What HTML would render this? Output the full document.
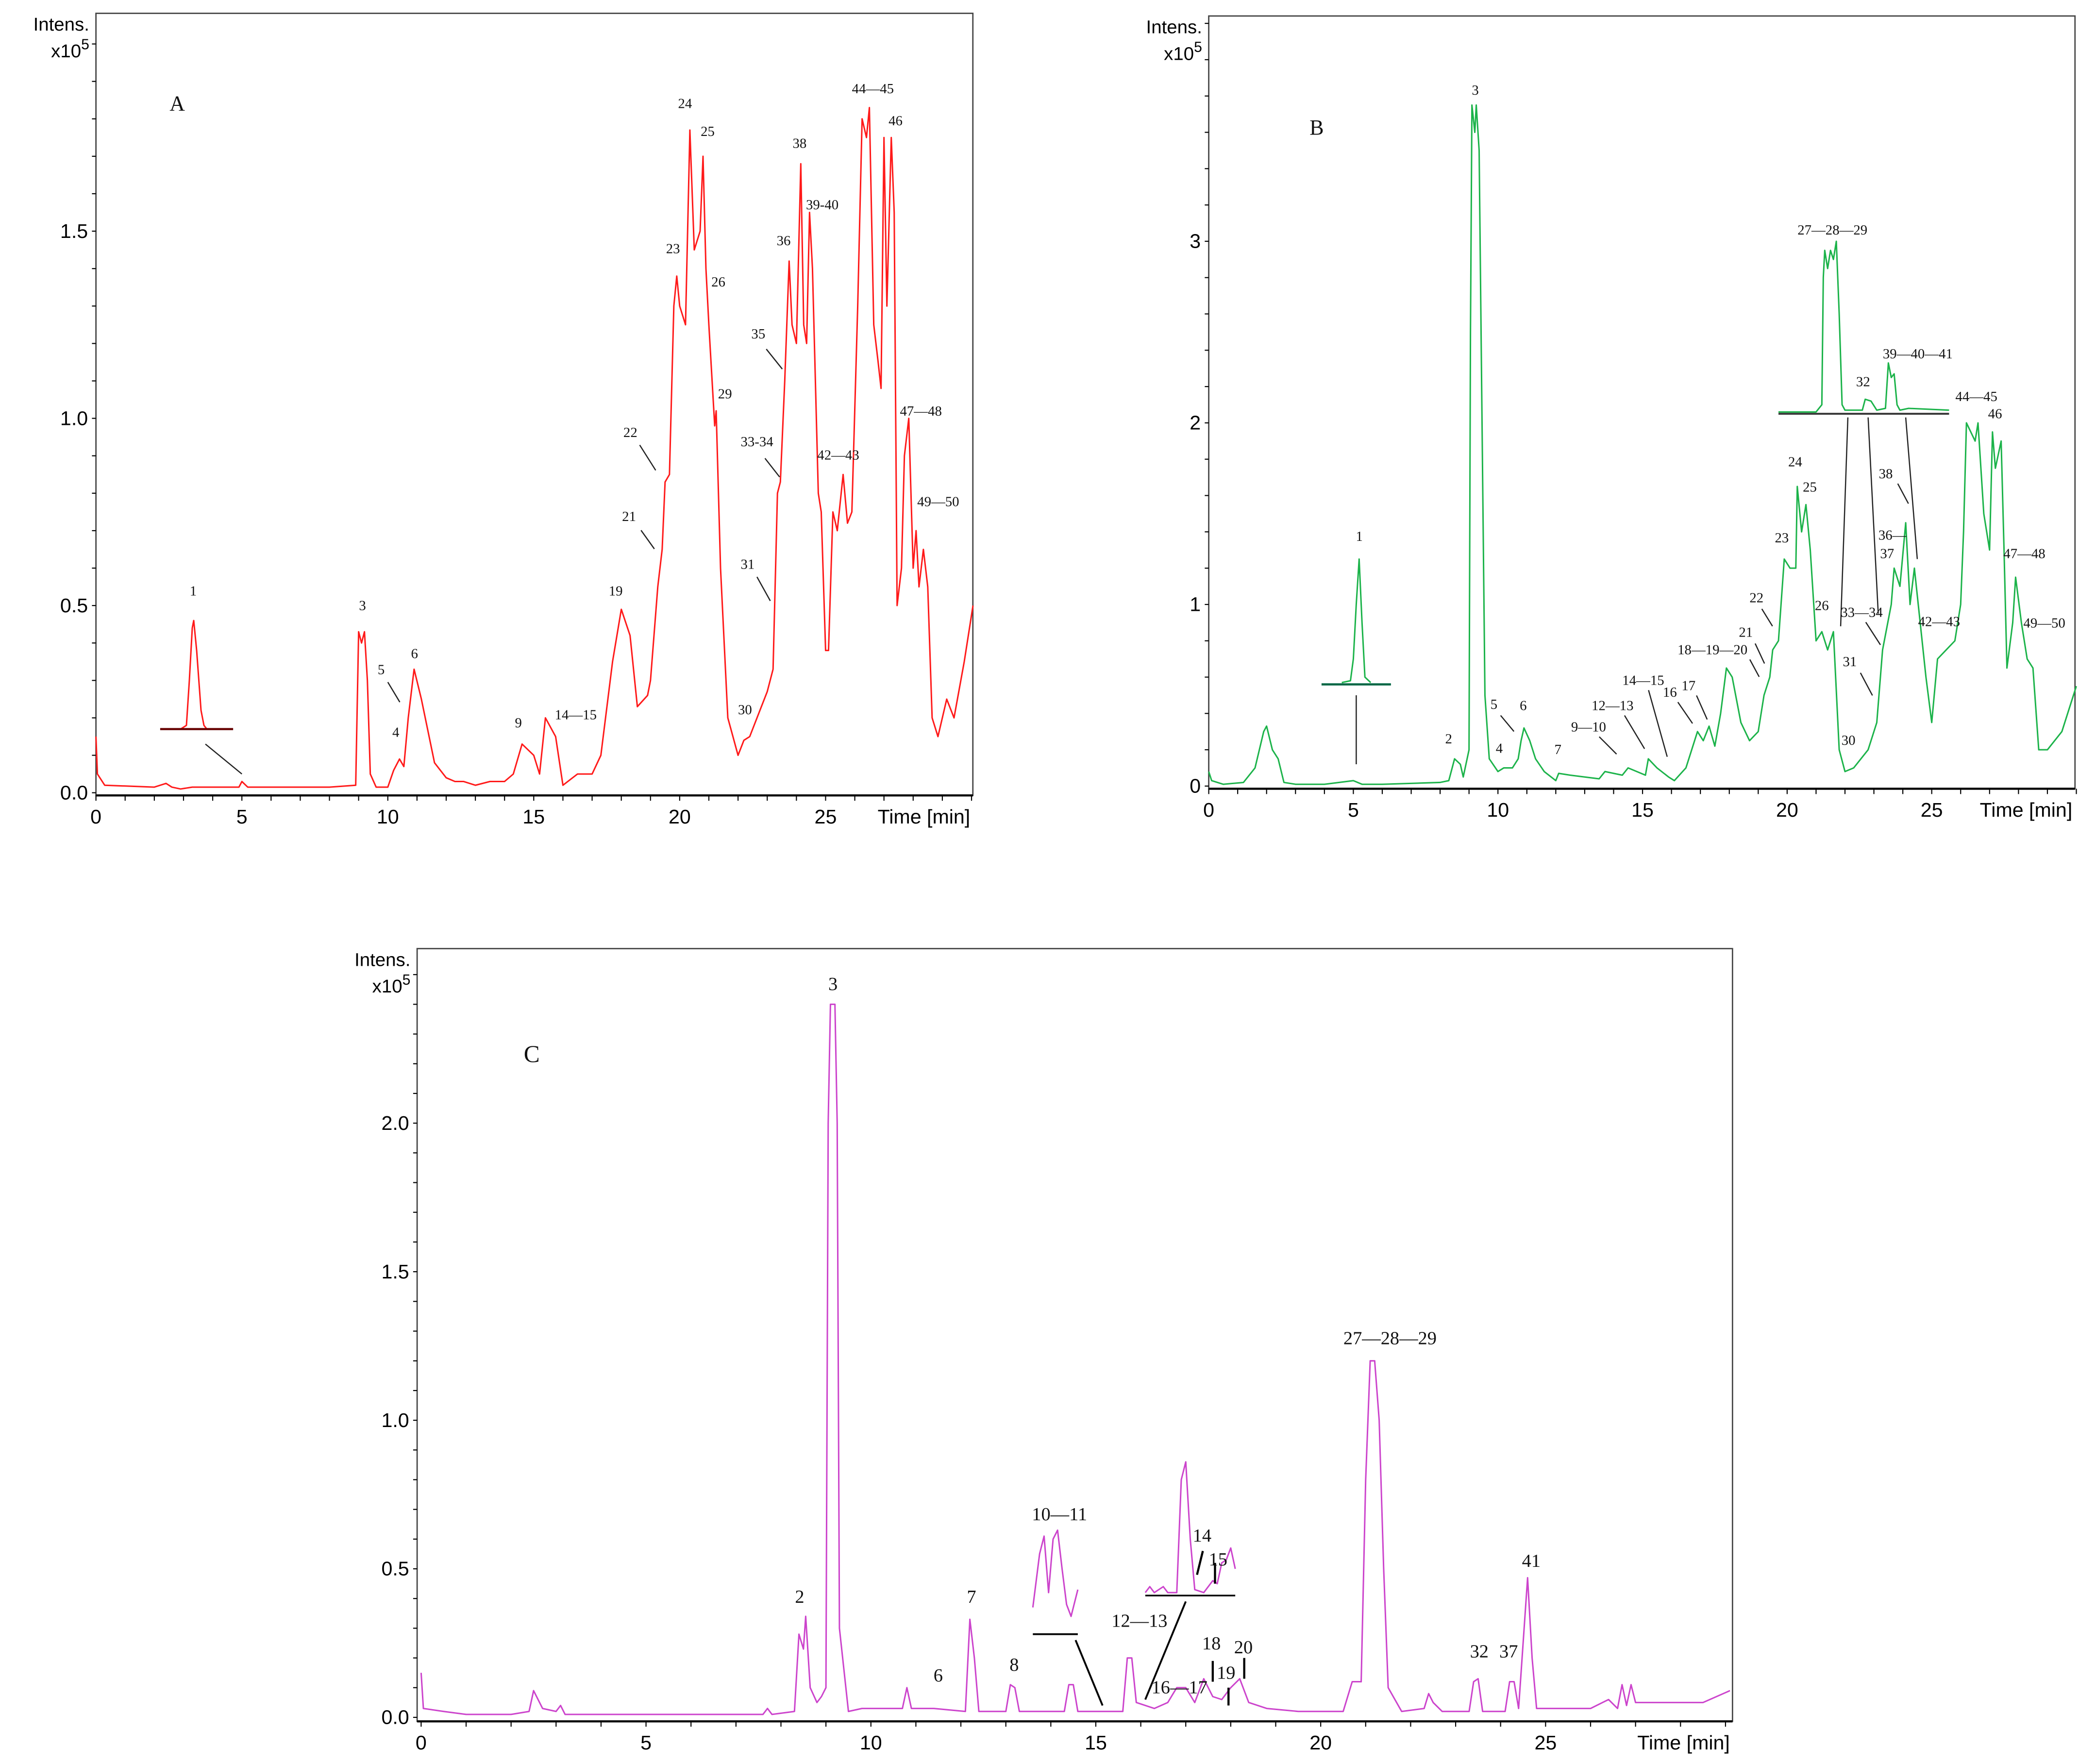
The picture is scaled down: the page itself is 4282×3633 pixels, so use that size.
<!DOCTYPE html>
<html><head><meta charset="utf-8"><style>
html,body{margin:0;padding:0;background:#fff;}
svg{display:block;}
.tk{font-family:"Liberation Sans",sans-serif;font-size:15px;fill:#000;}
.lb{font-family:"Liberation Serif",serif;font-size:10.5px;fill:#111;}
.lbc{font-family:"Liberation Serif",serif;font-size:14px;fill:#111;}
</style></head><body>
<svg id="fig" width="4282" height="3633" viewBox="0 0 1560 1324" preserveAspectRatio="none" xmlns="http://www.w3.org/2000/svg">
<rect width="1560" height="1324" fill="#fff"/>
</svg>
<script>
// ---- Panel A data (time min, intensity x1e5) ----
const timesA=[0,0.05,0.3,2,2.4,2.6,2.9,3.3,4,4.9,5.0,5.2,6,8,8.9,9.0,9.1,9.2,9.3,9.4,9.6,10.0,10.2,10.4,10.55,10.7,10.9,11.15,11.6,12,12.3,12.6,13,13.5,14,14.3,14.6,15.0,15.2,15.4,15.75,16.0,16.5,17.0,17.3,17.7,18.0,18.3,18.55,18.9,19.0,19.25,19.4,19.5,19.65,19.8,19.9,20.0,20.2,20.35,20.5,20.7,20.8,20.9,21.0,21.2,21.25,21.4,21.65,22.0,22.2,22.4,23.0,23.2,23.35,23.45,23.6,23.75,23.85,24.0,24.15,24.25,24.35,24.45,24.55,24.75,24.85,25.0,25.1,25.25,25.4,25.6,25.75,25.9,26.1,26.25,26.4,26.5,26.65,26.8,26.9,27.0,27.1,27.25,27.35,27.45,27.6,27.7,27.85,28.0,28.1,28.2,28.35,28.5,28.65,28.85,29.15,29.4,29.75,30.05];
const valuesA=[0.15,0.05,0.02,0.015,0.025,0.015,0.01,0.015,0.015,0.015,0.03,0.015,0.015,0.015,0.02,0.43,0.40,0.43,0.30,0.05,0.015,0.015,0.06,0.09,0.07,0.2,0.33,0.25,0.08,0.04,0.03,0.03,0.02,0.03,0.03,0.05,0.13,0.1,0.05,0.2,0.15,0.02,0.05,0.05,0.1,0.35,0.49,0.42,0.23,0.26,0.3,0.55,0.65,0.83,0.85,1.3,1.38,1.3,1.25,1.77,1.45,1.5,1.7,1.4,1.25,0.98,1.02,0.6,0.2,0.1,0.14,0.15,0.27,0.33,0.8,0.83,1.1,1.42,1.25,1.2,1.68,1.25,1.2,1.55,1.4,0.8,0.75,0.38,0.38,0.75,0.7,0.85,0.72,0.75,1.3,1.8,1.75,1.83,1.25,1.15,1.08,1.75,1.3,1.75,1.55,0.5,0.6,0.9,1.0,0.6,0.7,0.55,0.65,0.55,0.2,0.15,0.25,0.2,0.35,0.5];
// ---- Panel B data ----
const timesB=[0,0.1,0.5,1.2,1.6,1.9,2.0,2.2,2.4,2.6,3,4,4.5,5,5.3,6,8,8.3,8.5,8.7,8.8,9.0,9.05,9.1,9.2,9.25,9.35,9.45,9.55,9.7,10.0,10.2,10.5,10.7,10.8,10.9,11.1,11.3,11.6,12.0,12.1,12.5,13,13.5,13.7,14,14.3,14.5,14.8,15.1,15.2,15.5,15.9,16.1,16.5,16.7,16.9,17.1,17.3,17.5,17.7,17.9,18.1,18.4,18.7,19.0,19.2,19.4,19.5,19.7,19.9,20.1,20.3,20.35,20.5,20.65,20.8,21.0,21.2,21.4,21.6,21.8,22.0,22.3,22.8,23.1,23.3,23.6,23.7,23.9,24.1,24.25,24.4,24.6,24.8,25.0,25.2,25.5,25.8,26.0,26.1,26.2,26.5,26.6,26.8,27.0,27.1,27.2,27.4,27.5,27.6,27.8,27.9,28.1,28.3,28.5,28.7,29,29.5,30];
const valuesB=[0.08,0.03,0.01,0.02,0.1,0.3,0.33,0.2,0.15,0.02,0.01,0.01,0.02,0.03,0.01,0.01,0.02,0.03,0.15,0.12,0.05,0.2,2.5,3.75,3.6,3.75,3.5,2.0,0.5,0.15,0.08,0.1,0.1,0.15,0.25,0.32,0.25,0.15,0.08,0.03,0.07,0.06,0.05,0.04,0.08,0.07,0.06,0.1,0.08,0.06,0.15,0.1,0.05,0.03,0.1,0.2,0.3,0.25,0.33,0.22,0.4,0.65,0.6,0.35,0.25,0.3,0.5,0.6,0.75,0.8,1.25,1.2,1.2,1.65,1.4,1.55,1.3,0.8,0.85,0.75,0.85,0.2,0.08,0.1,0.2,0.35,0.75,1.0,1.2,1.1,1.45,1.0,1.2,0.9,0.6,0.35,0.7,0.75,0.8,1.0,1.4,2.0,1.9,2.0,1.5,1.3,1.95,1.75,1.9,1.3,0.65,0.9,1.15,0.9,0.7,0.65,0.2,0.2,0.3,0.55];
// ---- Panel C data ----
const timesC=[0,0.05,0.5,1,2,2.4,2.5,2.7,3,3.1,3.2,7.6,7.7,7.8,8.3,8.4,8.5,8.55,8.65,8.8,8.9,9.0,9.05,9.1,9.2,9.25,9.3,9.5,9.8,10.2,10.7,10.8,10.9,11.4,12.1,12.2,12.3,12.4,13.0,13.1,13.2,13.3,14.3,14.4,14.5,14.6,15.6,15.7,15.8,15.9,16.3,16.6,16.8,17.0,17.2,17.4,17.6,17.8,18.0,18.2,18.4,18.8,19.5,20.5,20.7,20.9,21.0,21.1,21.2,21.3,21.4,21.5,21.8,22.3,22.4,22.5,22.7,23.3,23.4,23.5,23.6,24.1,24.2,24.3,24.4,24.5,24.6,24.7,24.8,26.0,26.4,26.6,26.7,26.8,26.9,27.0,28.0,28.5,29.1];
const valuesC=[0.15,0.03,0.02,0.01,0.01,0.02,0.09,0.03,0.02,0.04,0.01,0.01,0.03,0.01,0.02,0.28,0.23,0.34,0.1,0.05,0.07,0.1,2.0,2.4,2.4,2.0,0.3,0.02,0.03,0.03,0.03,0.1,0.03,0.03,0.02,0.33,0.2,0.02,0.02,0.11,0.1,0.02,0.02,0.11,0.11,0.02,0.02,0.2,0.2,0.05,0.03,0.05,0.1,0.1,0.05,0.13,0.07,0.06,0.1,0.13,0.05,0.03,0.02,0.02,0.12,0.12,0.8,1.2,1.2,1.0,0.5,0.1,0.02,0.03,0.08,0.05,0.02,0.02,0.12,0.13,0.02,0.02,0.12,0.12,0.03,0.25,0.47,0.2,0.03,0.03,0.06,0.03,0.11,0.04,0.11,0.05,0.05,0.05,0.09];
// insets
const insetA1T=[2.9,3.1,3.2,3.3,3.35,3.45,3.6,3.7,3.8];
const insetA1V=[0.17,0.18,0.3,0.44,0.46,0.38,0.22,0.18,0.17];
const insetB1T=[4.6,4.9,5.0,5.1,5.2,5.3,5.4,5.6];
const insetB1V=[0.57,0.58,0.7,1.0,1.25,0.9,0.6,0.57];
const insetB2T=[19.7,21.0,21.2,21.25,21.3,21.4,21.5,21.6,21.7,21.8,21.9,22.0,22.6,22.7,22.9,23.1,23.4,23.5,23.6,23.7,23.8,23.9,24.2,25.6];
const insetB2V=[2.06,2.06,2.1,2.8,2.95,2.85,2.95,2.9,3.0,2.6,2.1,2.07,2.07,2.13,2.12,2.07,2.08,2.33,2.25,2.27,2.1,2.07,2.08,2.07];
const insetC1T=[13.6,13.75,13.85,13.95,14.05,14.15,14.25,14.35,14.45,14.5,14.6];
const insetC1V=[0.37,0.55,0.61,0.42,0.6,0.63,0.5,0.38,0.34,0.37,0.43];
const insetC2T=[16.1,16.2,16.3,16.4,16.5,16.6,16.8,16.9,17.0,17.1,17.2,17.4,17.6,17.7,17.8,17.9,18.0,18.1];
const insetC2V=[0.42,0.44,0.42,0.43,0.44,0.42,0.42,0.8,0.86,0.6,0.43,0.42,0.46,0.45,0.52,0.53,0.57,0.5];
const ticksAY=["0.0","0.5","1.0","1.5"];
const ticksBY=["0","1","2","3"];
const ticksCY=["0.0","0.5","1.0","1.5","2.0"];
const ticksX=["0","5","10","15","20","25"];

const NS="http://www.w3.org/2000/svg";
const svg=document.getElementById('fig');
function mk(tag,attrs,parent){const e=document.createElementNS(NS,tag);for(const k in attrs)e.setAttribute(k,attrs[k]);(parent||svg).appendChild(e);return e;}

const panels={
 A:{left:72,right:730,top:10,bottom:597,x0:72,ppm:21.9,y0:595,ppu:281,tmax:30,vmax:2.0,minorY:0.1,yt:ticksAY,color:"#ff1a1a"},
 B:{left:907,right:1557,top:12,bottom:592,x0:907,ppm:21.7,y0:590,ppu:136.3,tmax:30,vmax:4.2,minorY:0.2,yt:ticksBY,color:"#1cb34a"},
 C:{left:313,right:1300,top:712,bottom:1292,x0:316,ppm:33.75,y0:1289,ppu:223,tmax:29,vmax:2.5,minorY:0.1,yt:ticksCY,color:"#cc44cc"}
};
function X(p,t){return p.x0+t*p.ppm;}
function Y(p,v){return p.y0-v*p.ppu;}

function drawPanel(key){
 const p=panels[key];
 const g=mk('g',{});
 
 
 const fr=mk('rect',{x:p.left,y:p.top,width:p.right-p.left,height:p.bottom-p.top,fill:'none',stroke:'#444','stroke-width':1},g);
 
 
 const xa=mk('line',{x1:p.left,y1:p.bottom,x2:p.right,y2:p.bottom,stroke:'#000','stroke-width':1.6},g);
 
 
 for(let t=0;t<=p.tmax;t++){
  const tk=mk('line',{x1:X(p,t),y1:p.bottom,x2:X(p,t),y2:p.bottom+4,stroke:'#000','stroke-width':0.8},g);
  
  
 }
 ticksX.forEach(s=>{
  const tx=mk('text',{x:X(p,+s),y:p.bottom+21,'text-anchor':'middle',class:'tk'},g);tx.textContent=s;
  
  
 });
 const xt=mk('text',{x:p.right-2,y:p.bottom+21,'text-anchor':'end',class:'tk'},g);xt.textContent='Time [min]';
 
 
 for(let v=0;v<=p.vmax+1e-6;v+=p.minorY){
  const tk=mk('line',{x1:p.left-3,y1:Y(p,v),x2:p.left,y2:Y(p,v),stroke:'#000','stroke-width':0.8},g);
  
  
 }
 p.yt.forEach(s=>{
  const tx=mk('text',{x:p.left-6,y:Y(p,+s)+5,'text-anchor':'end',class:'tk'},g);tx.textContent=s;
  
  
 });
 const it=mk('text',{x:p.left-5,y:p.top+13,'text-anchor':'end',class:'tk',style:'font-size:14px'},g);it.textContent='Intens.';
 
 
 const ex=mk('text',{x:p.left-5,y:p.top+33,'text-anchor':'end',class:'tk',style:'font-size:14px'},g);
 ex.innerHTML='x10<tspan dy="-6" style="font-size:11px">5</tspan>';
 
 
 return g;
}
function trace(key,ts,vs,name,color,w){
 const p=panels[key];
 const pts=ts.map((t,i)=>X(p,t).toFixed(2)+','+Y(p,vs[i]).toFixed(2)).join(' ');
 const pl=mk('polyline',{points:pts,fill:'none',stroke:color||p.color,'stroke-width':w||1.1,'stroke-linejoin':'round'});
 
 
}
function seg(key,t1,v1,t2,v2,name,color,w){
 const p=panels[key];
 const l=mk('line',{x1:X(p,t1),y1:Y(p,v1),x2:X(p,t2),y2:Y(p,v2),stroke:color||'#222','stroke-width':w||0.9});
 
 
}
function label(x,y,s,cls,size){
 const t=mk('text',{x:x,y:y,'text-anchor':'middle',class:cls||'lb'});
 if(size)t.setAttribute('style','font-size:'+size+'px');
 t.textContent=s;
 
 
}

drawPanel('A');drawPanel('B');drawPanel('C');
trace('A',timesA,valuesA,'trace-a');
trace('B',timesB,valuesB,'trace-b');
trace('C',timesC,valuesC,'trace-c');
// insets
trace('A',insetA1T,insetA1V,'inset-a-peak-1');
seg('A',2.2,0.17,4.7,0.17,'inset-a-baseline','#600',1.6);
seg('A',3.75,0.13,5.0,0.05,'inset-a-leader');
trace('B',insetB1T,insetB1V,'inset-b-peak-1');
seg('B',3.9,0.56,6.3,0.56,'inset-b1-baseline','#064',1.6);
seg('B',5.1,0.5,5.1,0.12,'inset-b1-leader');
trace('B',insetB2T,insetB2V,'inset-b-peaks-27-41');
seg('B',19.7,2.05,25.6,2.05,'inset-b2-baseline','#333',1.4);
seg('B',22.1,2.03,21.85,0.88,'inset-b2-leader-1');
seg('B',22.8,2.03,23.15,0.95,'inset-b2-leader-2');
seg('B',24.1,2.03,24.5,1.25,'inset-b2-leader-3');
trace('C',insetC1T,insetC1V,'inset-c-peaks-10-11');
seg('C',13.6,0.28,14.6,0.28,'inset-c1-baseline','#000',1.4);
seg('C',14.55,0.26,15.15,0.04,'inset-c1-leader','#000',1.4);
trace('C',insetC2T,insetC2V,'inset-c-peaks-12-15');
seg('C',16.1,0.41,18.1,0.41,'inset-c2-baseline','#000',1.2);
seg('C',17.0,0.39,16.1,0.06,'inset-c2-leader','#000',1.4);
seg('C',17.25,0.48,17.38,0.56,'marker-14','#000',1.6);
seg('C',17.65,0.45,17.65,0.52,'marker-15','#000',1.6);
seg('C',17.6,0.19,17.6,0.12,'marker-18','#000',1.6);
seg('C',17.95,0.1,17.95,0.04,'marker-19','#000',1.6);
seg('C',18.3,0.2,18.3,0.13,'marker-20','#000',1.6);
// leaders A
[[291,512,300,527],[481,398,491,412],[480,334,492,353],[568,433,578,451],[574,344,585,358],[575,262,587,277]].forEach(a=>{
 const l=mk('line',{x1:a[0],y1:a[1],x2:a[2],y2:a[3],stroke:'#222','stroke-width':0.9});
 
 
});
// leaders B
[[1126,537,1136,549],[1200,553,1213,566],[1219,537,1234,562],[1237,518,1251,568],[1259,527,1270,543],[1273,522,1281,540],[1313,495,1320,508],[1317,483,1324,498],[1322,457,1330,470],[1396,505,1405,522],[1400,467,1411,484],[1424,363,1432,378]].forEach(a=>{
 const l=mk('line',{x1:a[0],y1:a[1],x2:a[2],y2:a[3],stroke:'#222','stroke-width':0.9});
 
 
});
// labels A
label(133,83,'A','lb',16);
[[145,447,'1'],[272,458,'3'],[286,506,'5'],[297,553,'4'],[311,494,'6'],[389,546,'9'],[432,540,'14—15'],[462,447,'19'],[472,391,'21'],[473,328,'22'],[505,190,'23'],[514,81,'24'],[531,102,'25'],[539,215,'26'],[544,299,'29'],[559,536,'30'],[561,427,'31'],[568,335,'33-34'],[569,254,'35'],[588,184,'36'],[600,111,'38'],[617,157,'39-40'],[629,345,'42—43'],[655,70,'44—45'],[672,94,'46'],[691,312,'47—48'],[704,380,'49—50']].forEach(a=>label(a[0],a[1],a[2]));
// labels B
label(988,101,'B','lb',16);
[[1107,71,'3'],[1020,406,'1'],[1087,558,'2'],[1125,565,'4'],[1121,532,'5'],[1143,533,'6'],[1169,566,'7'],[1192,549,'9—10'],[1210,533,'12—13'],[1233,514,'14—15'],[1253,523,'16'],[1267,518,'17'],[1285,491,'18—19—20'],[1310,478,'21'],[1318,452,'22'],[1337,407,'23'],[1347,350,'24'],[1358,369,'25'],[1367,458,'26'],[1375,176,'27—28—29'],[1387,559,'30'],[1388,500,'31'],[1398,290,'32'],[1397,463,'33—34'],[1420,405,'36—'],[1416,419,'37'],[1415,359,'38'],[1439,269,'39—40—41'],[1455,470,'42—43'],[1483,301,'44—45'],[1497,314,'46'],[1519,419,'47—48'],[1534,471,'49—50']].forEach(a=>label(a[0],a[1],a[2]));
// labels C
label(399,797,'C','lbc',18);
[[625,743,'3'],[600,1203,'2'],[704,1262,'6'],[729,1203,'7'],[761,1254,'8'],[795,1141,'10—11'],[855,1221,'12—13'],[902,1157,'14'],[914,1175,'15'],[885,1271,'16—17'],[909,1238,'18'],[920,1260,'19'],[933,1241,'20'],[1043,1009,'27—28—29'],[1110,1244,'32'],[1132,1244,'37'],[1149,1176,'41']].forEach(a=>label(a[0],a[1],a[2],'lbc'));
</script>
</body></html>
